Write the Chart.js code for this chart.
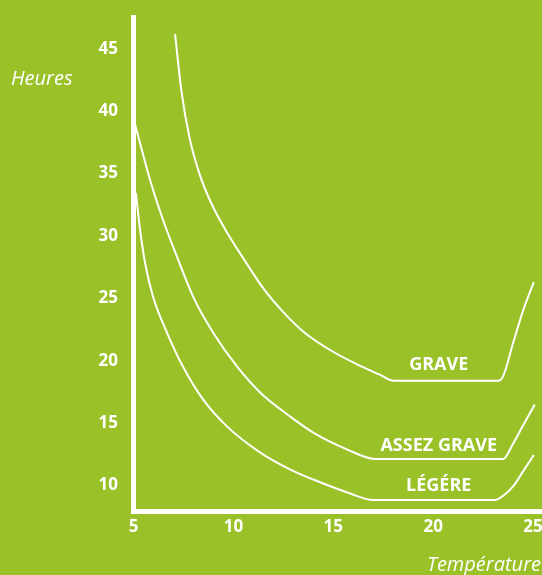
<!DOCTYPE html>
<html>
<head>
<meta charset="utf-8">
<script src="https://cdn.jsdelivr.net/npm/chart.js@4"></script>
<style>
  html, body { margin: 0; padding: 0; background: #9ac228; }
  #wrap { width: 542px; height: 575px; position: relative; }
</style>
</head>
<body>
<div id="wrap"><canvas id="c" width="542" height="575"></canvas></div>
<script>
// ---- Data ----
const xTicks = [5, 10, 15, 20, 25];
const yTicks = [10, 15, 20, 25, 30, 35, 40, 45];

const seriesNames = ["GRAVE", "ASSEZ GRAVE", "LÉGÉRE"];

const graveX = [7.08, 7.4, 7.8, 8.3, 8.9, 9.6, 10.5, 11.5, 12.5, 13.6, 14.8, 16.2, 17.3, 18.0, 23.25, 23.5, 24.0, 24.5, 25.04];
const graveY = [46.2, 41.6, 37.9, 35.0, 32.6, 30.5, 28.2, 25.8, 23.9, 22.2, 20.9, 19.7, 18.9, 18.4, 18.4, 18.75, 21.4, 24.0, 26.3];

const assezX = [5.0, 5.13, 5.83, 6.48, 7.18, 7.99, 8.99, 10.19, 11.35, 12.85, 14.0, 15.71, 17.1, 23.5, 24.0, 24.5, 25.09];
const assezY = [39.4, 38.64, 34.48, 31.28, 28.32, 25.12, 22.24, 19.52, 17.44, 15.52, 14.24, 12.88, 12.12, 12.12, 13.35, 14.8, 16.5];

const legereX = [5.12, 5.33, 5.58, 5.98, 6.68, 7.48, 8.49, 9.69, 11.35, 12.85, 14.0, 15.71, 17.02, 23.1, 23.6, 24.0, 24.55, 25.04];
const legereY = [33.45, 30.48, 27.84, 25.12, 22.24, 19.52, 16.88, 14.72, 12.64, 11.28, 10.48, 9.44, 8.84, 8.84, 9.3, 9.92, 11.25, 12.45];

const axisTitles = { y: "Heures", x: "Température" };

// ---- Build chart ----
const WHITE = "#ffffff";
function pts(xs, ys) { return xs.map((x, i) => ({ x: x, y: ys[i] })); }

const labelPlugin = {
  id: "labels",
  afterDatasetsDraw(chart) {
    const ctx = chart.ctx;
    const xs = chart.scales.x, ys = chart.scales.y;
    ctx.save();
    ctx.fillStyle = WHITE;
    ctx.textAlign = "center";
    ctx.textBaseline = "alphabetic";
    ctx.font = "bold 18px 'Open Sans'";
    const anchors = [[20.28, 19.25], [20.28, 12.8], [20.28, 9.52]];
    seriesNames.forEach((n, i) => {
      ctx.fillText(n, xs.getPixelForValue(anchors[i][0]), ys.getPixelForValue(anchors[i][1]));
    });
    // axis titles
    ctx.font = "italic 20px 'Open Sans'";
    ctx.textAlign = "left";
    ctx.fillText(axisTitles.y, 11, 85);
    ctx.textAlign = "right";
    ctx.fillText(axisTitles.x, 541, 571);
    ctx.restore();
  }
};

const bgPlugin = {
  id: "bg",
  beforeDraw(chart) {
    const ctx = chart.ctx;
    ctx.save();
    ctx.fillStyle = "#9ac228";
    ctx.fillRect(0, 0, chart.width, chart.height);
    ctx.restore();
  }
};

const lineStyle = {
  borderColor: WHITE,
  borderWidth: 2,
  pointRadius: 0,
  fill: false,
  showLine: true,
  cubicInterpolationMode: "monotone",
  clip: false
};

new Chart(document.getElementById("c"), {
  type: "scatter",
  data: {
    datasets: [
      Object.assign({ label: seriesNames[0], data: pts(graveX, graveY) }, lineStyle),
      Object.assign({ label: seriesNames[1], data: pts(assezX, assezY) }, lineStyle),
      Object.assign({ label: seriesNames[2], data: pts(legereX, legereY) }, lineStyle)
    ]
  },
  options: {
    responsive: false,
    animation: false,
    layout: { padding: { top: 17.6, right: 0, left: 0, bottom: 0 } },
    plugins: { legend: { display: false }, tooltip: { enabled: false } },
    scales: {
      x: {
        type: "linear",
        min: 5, max: 25.45,
        grid: { display: false, drawTicks: false },
        border: { display: true, color: WHITE, width: 5 },
        afterBuildTicks(s) { s.ticks = xTicks.map(v => ({ value: v })); },
        afterFit(s) { s.height = 63.3; s.paddingLeft = 0; s.paddingRight = 0; },
        ticks: {
          color: WHITE, padding: 5, maxRotation: 0, autoSkip: false,
          font: { family: "'Open Sans'", size: 17, weight: "bold" }
        }
      },
      y: {
        type: "linear",
        min: 7.9, max: 47.5,
        grid: { display: false, drawTicks: false },
        border: { display: true, color: WHITE, width: 5 },
        afterBuildTicks(s) { s.ticks = yTicks.map(v => ({ value: v })); },
        afterFit(s) { s.width = 133.5; s.paddingTop = 0; s.paddingBottom = 0; },
        ticks: {
          color: WHITE, padding: 15.5, autoSkip: false,
          font: { family: "'Open Sans'", size: 17, weight: "bold" }
        }
      }
    }
  },
  plugins: [bgPlugin, labelPlugin]
});
</script>
</body>
</html>
